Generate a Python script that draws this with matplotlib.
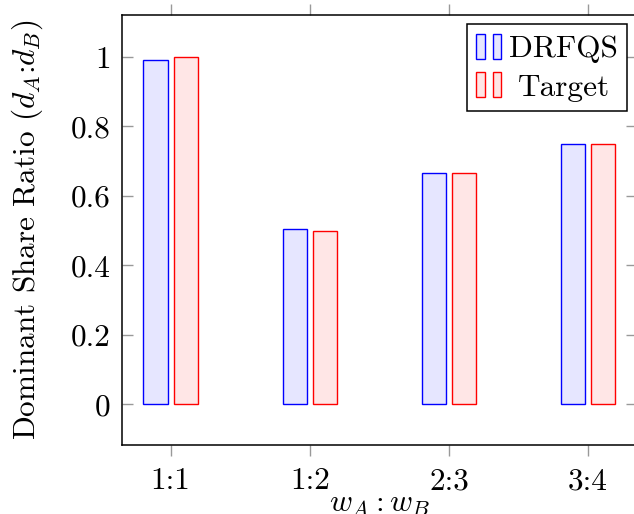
import matplotlib
matplotlib.use('Agg')
import matplotlib.pyplot as plt
import matplotlib.transforms as mtransforms
from matplotlib.patches import Patch
from matplotlib.legend_handler import HandlerTuple
import numpy as np

plt.rcParams['font.family'] = 'cmr10'
plt.rcParams['mathtext.fontset'] = 'cm'
plt.rcParams['axes.unicode_minus'] = False

categories = ['1:1', '1:2', '2:3', '3:4']
drfqs = [0.991, 0.503, 0.666, 0.75]
target = [1.0, 0.5, 0.667, 0.75]
yticks = [0, 0.2, 0.4, 0.6, 0.8, 1.0]
ytick_labels = ['0', '0.2', '0.4', '0.6', '0.8', '1']

fs = 22.5
fig = plt.figure(figsize=(6.34, 5.14), dpi=100)
ax = fig.add_axes([0.1924, 0.1342, 0.812, 0.8366])

x = np.arange(len(categories))
w, off = 0.175, 0.108
ax.bar(x - off, drfqs, w, color='#e6e6ff', edgecolor='blue', lw=1.0)
ax.bar(x + off, target, w, color='#ffe6e6', edgecolor='red', lw=1.0)

ax.set_xlim(-0.35, 3.35)
ax.set_ylim(-0.118, 1.121)
ax.set_xticks(x)
ax.set_xticklabels(categories, fontsize=fs)
ax.set_yticks(yticks)
ax.set_yticklabels(ytick_labels, fontsize=fs)
ax.tick_params(axis='x', direction='out', top=True, length=8, width=1, color='#999999', pad=8)
ax.tick_params(axis='y', direction='in', right=True, length=8, width=1, color='#999999', pad=8)
for s in ax.spines.values():
    s.set_linewidth(1.1)

ax.set_ylabel('Dominant Share Ratio ($d_A$:$d_B$)', fontsize=fs)
ax.yaxis.set_label_coords(-0.15, 0.5)
ax.set_xlabel('$w_A : w_B$', fontsize=fs)
ax.xaxis.set_label_coords(0.5, -0.108)
ax.xaxis.label.set_va('top')

h1 = (Patch(fc='#e6e6ff', ec='blue', lw=1.0), Patch(fc='#e6e6ff', ec='blue', lw=1.0))
h2 = (Patch(fc='#ffe6e6', ec='red', lw=1.0), Patch(fc='#ffe6e6', ec='red', lw=1.0))
leg = ax.legend([h1, h2], ['DRFQS', 'Target'], loc='upper right', fontsize=fs,
                handler_map={tuple: HandlerTuple(ndivide=None, pad=0.25)},
                handlelength=0.8, handleheight=0.85, handletextpad=0.25,
                borderpad=0.3, labelspacing=0.3, borderaxespad=0.3,
                fancybox=False, framealpha=1, edgecolor='black')
leg.get_frame().set_linewidth(1.1)

# center the shorter legend label like pgfplots does
fig.canvas.draw()
texts = leg.get_texts()
dx = (texts[0].get_window_extent().width - texts[1].get_window_extent().width) / 2
texts[1].set_transform(texts[1].get_transform() + mtransforms.Affine2D().translate(dx, 0))

fig.savefig('out.png', dpi=100)
